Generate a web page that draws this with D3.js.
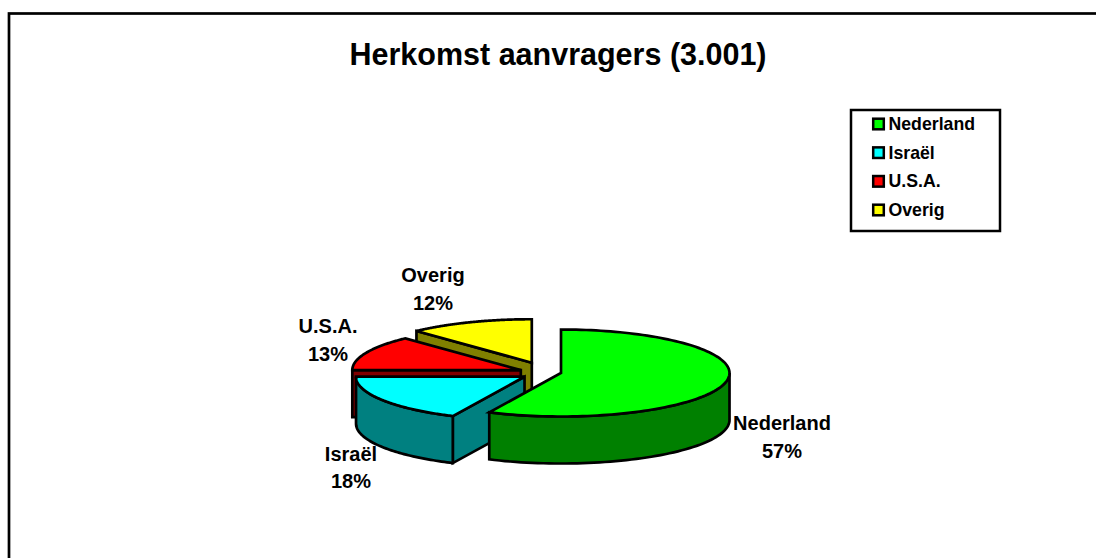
<!DOCTYPE html>
<html>
<head>
<meta charset="utf-8">
<script src="https://cdn.jsdelivr.net/npm/d3@7"></script>
<style>
  html, body { margin: 0; padding: 0; background: #fff; overflow: hidden; }
  text { font-family: "Liberation Sans", Arial, sans-serif; font-weight: bold; fill: #000; }
</style>
</head>
<body>
<script>
var width = 1096,
    height = 558;

var categories = ['Nederland', 'Israël', 'U.S.A.', 'Overig'];
var values = [57, 18, 13, 12];
var topColors = ['#00ff00', '#00ffff', '#ff0000', '#ffff00'];
var sideColors = ['#008000', '#008080', '#800000', '#808000'];
// how far each slice is pulled out of the pie, plus a small vertical fix
var explode = [20.5, 19.5, 22, 25];
var nudgeY = [-1, 0, 2, 1.2];

var title = 'Herkomst aanvragers (3.001)';

// pie geometry: flat ellipse with a fixed depth
var cx = 541, cy = 372,
    rx = 168.5, ry = 43.5,
    depth = 47,
    tilt = 0.45;

var svg = d3.select('body').append('svg')
    .attr('width', width)
    .attr('height', height)
    .style('display', 'block');

// outer frame, right and bottom edges run off the page
svg.append('rect')
    .attr('x', 9)
    .attr('y', 13.5)
    .attr('width', 1200)
    .attr('height', 700)
    .attr('fill', 'none')
    .attr('stroke', '#000')
    .attr('stroke-width', 2.7);

svg.append('text')
    .attr('x', 558)
    .attr('y', 65)
    .attr('text-anchor', 'middle')
    .style('font-size', '30.5px')
    .text(title);

var pie = d3.pie().sort(null).value(function(d) { return d; });
var slices = pie(values);

var total = d3.sum(values);
var pct = d3.format('.0%');

// angle 0 is 12 o'clock, going clockwise, same as d3.arc
function rim(a) {
  return [rx * Math.sin(a), -ry * Math.cos(a)];
}

var line = d3.line();

function sliceCenter(s, i) {
  var mid = (s.startAngle + s.endAngle) / 2;
  return [cx + explode[i] * Math.sin(mid), cy + nudgeY[i] - explode[i] * tilt * Math.cos(mid)];
}

function radialWall(a) {
  var p = rim(a);
  return line([[0, 0], p, [p[0], p[1] + depth], [0, depth]]) + 'Z';
}

// front part of the rim, only the angles between 3 and 9 o'clock face us
function rimWall(s) {
  var a0 = Math.max(s.startAngle, Math.PI / 2),
      a1 = Math.min(s.endAngle, Math.PI * 1.5);
  if (a1 <= a0) return null;
  var steps = d3.range(0, 61).map(function(k) { return a0 + (a1 - a0) * k / 60; });
  var topEdge = steps.map(rim);
  var bottomEdge = topEdge.map(function(p) { return [p[0], p[1] + depth]; }).reverse();
  return line(topEdge.concat(bottomEdge)) + 'Z';
}

function topFace(s) {
  var n = 120;
  var pts = d3.range(0, n + 1).map(function(k) {
    return rim(s.startAngle + (s.endAngle - s.startAngle) * k / n);
  });
  return line([[0, 0]].concat(pts)) + 'Z';
}

var g = svg.append('g')
    .attr('stroke', '#000')
    .attr('stroke-width', 2.7)
    .attr('stroke-linejoin', 'miter');

// back to front: Overig, U.S.A., Israel, Nederland
[3, 2, 1, 0].forEach(function(i) {
  var s = slices[i],
      c = sliceCenter(s, i),
      sg = g.append('g').attr('transform', 'translate(' + c[0] + ',' + c[1] + ')');

  // wall at the start of the slice shows when it is in the left half
  if (s.startAngle > Math.PI) {
    sg.append('path').attr('d', radialWall(s.startAngle)).attr('fill', sideColors[i]);
  }
  var wall = rimWall(s);
  if (wall) sg.append('path').attr('d', wall).attr('fill', sideColors[i]);
  sg.append('path').attr('d', topFace(s)).attr('fill', topColors[i]);
});

// data labels
var labelAt = [[782, 430], [351, 460.5], [328, 333], [433, 282]];
categories.forEach(function(name, i) {
  var t = svg.append('text')
      .attr('text-anchor', 'middle')
      .style('font-size', '20px');
  t.append('tspan').attr('x', labelAt[i][0]).attr('y', labelAt[i][1]).text(name);
  t.append('tspan').attr('x', labelAt[i][0]).attr('y', labelAt[i][1] + 27.5).text(pct(values[i] / total));
});

// legend
var legend = svg.append('g');
legend.append('rect')
    .attr('x', 851)
    .attr('y', 110)
    .attr('width', 149)
    .attr('height', 121)
    .attr('fill', '#fff')
    .attr('stroke', '#000')
    .attr('stroke-width', 2.5);

var legendY = d3.scalePoint().domain(categories).range([124, 210]);

categories.forEach(function(name, i) {
  legend.append('rect')
      .attr('x', 873.2)
      .attr('y', legendY(name) - 5.3)
      .attr('width', 10.6)
      .attr('height', 10.6)
      .attr('fill', topColors[i])
      .attr('stroke', '#000')
      .attr('stroke-width', 2.5);
  legend.append('text')
      .attr('x', 888.5)
      .attr('y', legendY(name) + 6)
      .style('font-size', '17.7px')
      .text(name);
});
</script>
</body>
</html>
